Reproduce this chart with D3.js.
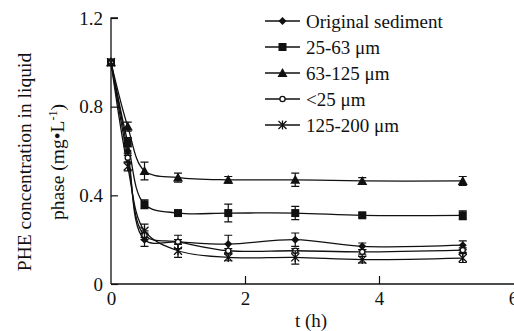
<!DOCTYPE html>
<html><head><meta charset="utf-8">
<script src="https://cdn.jsdelivr.net/npm/d3@7"></script>
<style>body{margin:0;background:#fff}svg{display:block}</style>
</head><body><svg id="c" width="514" height="331"></svg>
<script>
const times = [0, 0.25, 0.5, 1, 1.75, 2.75, 3.75, 5.25];
const seriesNames = ["Original sediment", "25-63 \u03bcm", "63-125 \u03bcm", "<25 \u03bcm", "125-200 \u03bcm"];
const original = [1.0, 0.60, 0.20, 0.19, 0.18, 0.20, 0.17, 0.175];
const s25_63 = [1.0, 0.64, 0.36, 0.32, 0.32, 0.32, 0.31, 0.31];
const s63_125 = [1.0, 0.71, 0.51, 0.48, 0.47, 0.47, 0.465, 0.465];
const lt25 = [1.0, 0.57, 0.22, 0.19, 0.15, 0.15, 0.145, 0.153];
const s125_200 = [1.0, 0.53, 0.24, 0.15, 0.12, 0.12, 0.11, 0.117];
const errOriginal = [0.01, 0.02, 0.03, 0.03, 0.04, 0.03, 0.015, 0.02];
const err25_63 = [0.01, 0.02, 0.02, 0.01, 0.04, 0.03, 0.01, 0.02];
const err63_125 = [0.01, 0.02, 0.04, 0.02, 0.015, 0.03, 0.015, 0.02];
const errLt25 = [0.01, 0.02, 0.02, 0.01, 0.01, 0.01, 0.01, 0.01];
const err125_200 = [0.01, 0.02, 0.03, 0.03, 0.015, 0.03, 0.015, 0.02];
const markers = ["diamond", "square", "triangle", "circle", "star"];
const yTicks = [0, 0.4, 0.8, 1.2];
const xTicks = [0, 2, 4, 6];

const FONT = "'Liberation Serif'";
const svg = d3.select("#c");
const x = d3.scaleLinear().domain([0, 6]).range([111, 513]);
const y = d3.scaleLinear().domain([0, 1.2]).range([284, 18]);

const series = [original, s25_63, s63_125, lt25, s125_200].map((v, i) => ({
  name: seriesNames[i], values: v,
  err: [errOriginal, err25_63, err63_125, errLt25, err125_200][i], marker: markers[i]
}));

function txt(sel) { return sel.attr("font-family", null).style("font-family", FONT).attr("fill", "#111"); }

// axes
const yAxis = d3.axisRight(y).tickValues(yTicks).tickSize(7).tickFormat(d => d === 0 ? "0" : d3.format(".1f")(d));
const gy = svg.append("g").attr("transform", `translate(${x(0)},0)`).call(yAxis).attr("font-family", null);
gy.select(".domain").attr("d", `M7,${y(1.2)}H0V${y(0)}`).attr("stroke", "#111").attr("stroke-width", 1.3);
gy.selectAll(".tick line").attr("stroke", "#111").attr("stroke-width", 1.2);
txt(gy.selectAll(".tick text")).attr("x", -8).attr("text-anchor", "end").style("font-size", "19px").attr("dy", "0.32em");

const xAxis = d3.axisTop(x).tickValues(xTicks).tickSize(8).tickFormat(d3.format("d"));
const gx = svg.append("g").attr("transform", `translate(0,${y(0)})`).call(xAxis).attr("font-family", null);
gx.select(".domain").attr("d", `M${x(0)},0H514`).attr("stroke", "#111").attr("stroke-width", 1.3);
gx.selectAll(".tick line").attr("stroke", "#111").attr("stroke-width", 1.2).filter(d => d === 0 || d === 6).remove();
txt(gx.selectAll(".tick text")).attr("y", 21).attr("dy", "0").style("font-size", "19px");

txt(svg.append("text")).attr("x", 311).attr("y", 327).attr("text-anchor", "middle").style("font-size", "19px").text("t (h)");
const yt = txt(svg.append("text")).attr("transform", "translate(25,162) rotate(-90)").attr("text-anchor", "middle").style("font-size", "19.5px");
yt.append("tspan").attr("x", 0).attr("y", 6).text("PHE concentration in liquid");
const t2 = yt.append("tspan").attr("x", 0).attr("y", 39).text("phase (mg\u2022L");
t2.append("tspan").attr("dy", -7).style("font-size", "12px").text("-1");
t2.append("tspan").attr("dy", 7).text(")");

function drawMarker(g, type, cx, cy) {
  const s = 4;
  if (type === "diamond") g.append("path").attr("d", `M${cx},${cy - s}L${cx + s},${cy}L${cx},${cy + s}L${cx - s},${cy}Z`).attr("fill", "#111");
  else if (type === "square") g.append("rect").attr("x", cx - 4).attr("y", cy - 4).attr("width", 8).attr("height", 8).attr("fill", "#111");
  else if (type === "triangle") g.append("path").attr("d", `M${cx},${cy - 5}L${cx + 5},${cy + 4}L${cx - 5},${cy + 4}Z`).attr("fill", "#111");
  else if (type === "circle") g.append("circle").attr("cx", cx).attr("cy", cy).attr("r", 2.6).attr("fill", "#fff").attr("stroke", "#111").attr("stroke-width", 1.3);
  else if (type === "star") {
    g.append("path").attr("d", `M${cx - 4},${cy - 4}L${cx + 4},${cy + 4}M${cx + 4},${cy - 4}L${cx - 4},${cy + 4}M${cx},${cy - 4.5}L${cx},${cy + 4.5}`)
      .attr("stroke", "#111").attr("stroke-width", 1.3).attr("fill", "none");
  }
}

const line = d3.line().x(d => x(d[0])).y(d => y(d[1])).curve(d3.curveCatmullRom.alpha(0.5));
const plot = svg.append("g");
series.forEach(s => {
  const pts = times.map((t, i) => [t, s.values[i]]);
  plot.append("path").attr("d", line(pts)).attr("fill", "none").attr("stroke", "#111").attr("stroke-width", 1.3);
});
series.forEach(s => {
  const g = plot.append("g");
  times.forEach((t, i) => {
    if (i === 0) return;
    const cx = x(t), v = s.values[i], e = s.err[i];
    const y1 = y(v + e), y2 = y(v - e);
    g.append("path").attr("d", `M${cx},${y1}V${y2}M${cx - 4},${y1}H${cx + 4}M${cx - 4},${y2}H${cx + 4}`)
      .attr("stroke", "#111").attr("stroke-width", 1.2).attr("fill", "none");
  });
  times.forEach((t, i) => drawMarker(g, s.marker, x(t), y(s.values[i])));
});

// legend
const lg = svg.append("g");
series.forEach((s, i) => {
  const ly = 21 + i * 26;
  lg.append("line").attr("x1", 265).attr("x2", 300).attr("y1", ly).attr("y2", ly).attr("stroke", "#111").attr("stroke-width", 1.3);
  drawMarker(lg, s.marker, 282.5, ly);
  txt(lg.append("text")).attr("x", 306).attr("y", ly).attr("dy", "0.35em").style("font-size", "19px").text(s.name);
});
</script></body></html>
